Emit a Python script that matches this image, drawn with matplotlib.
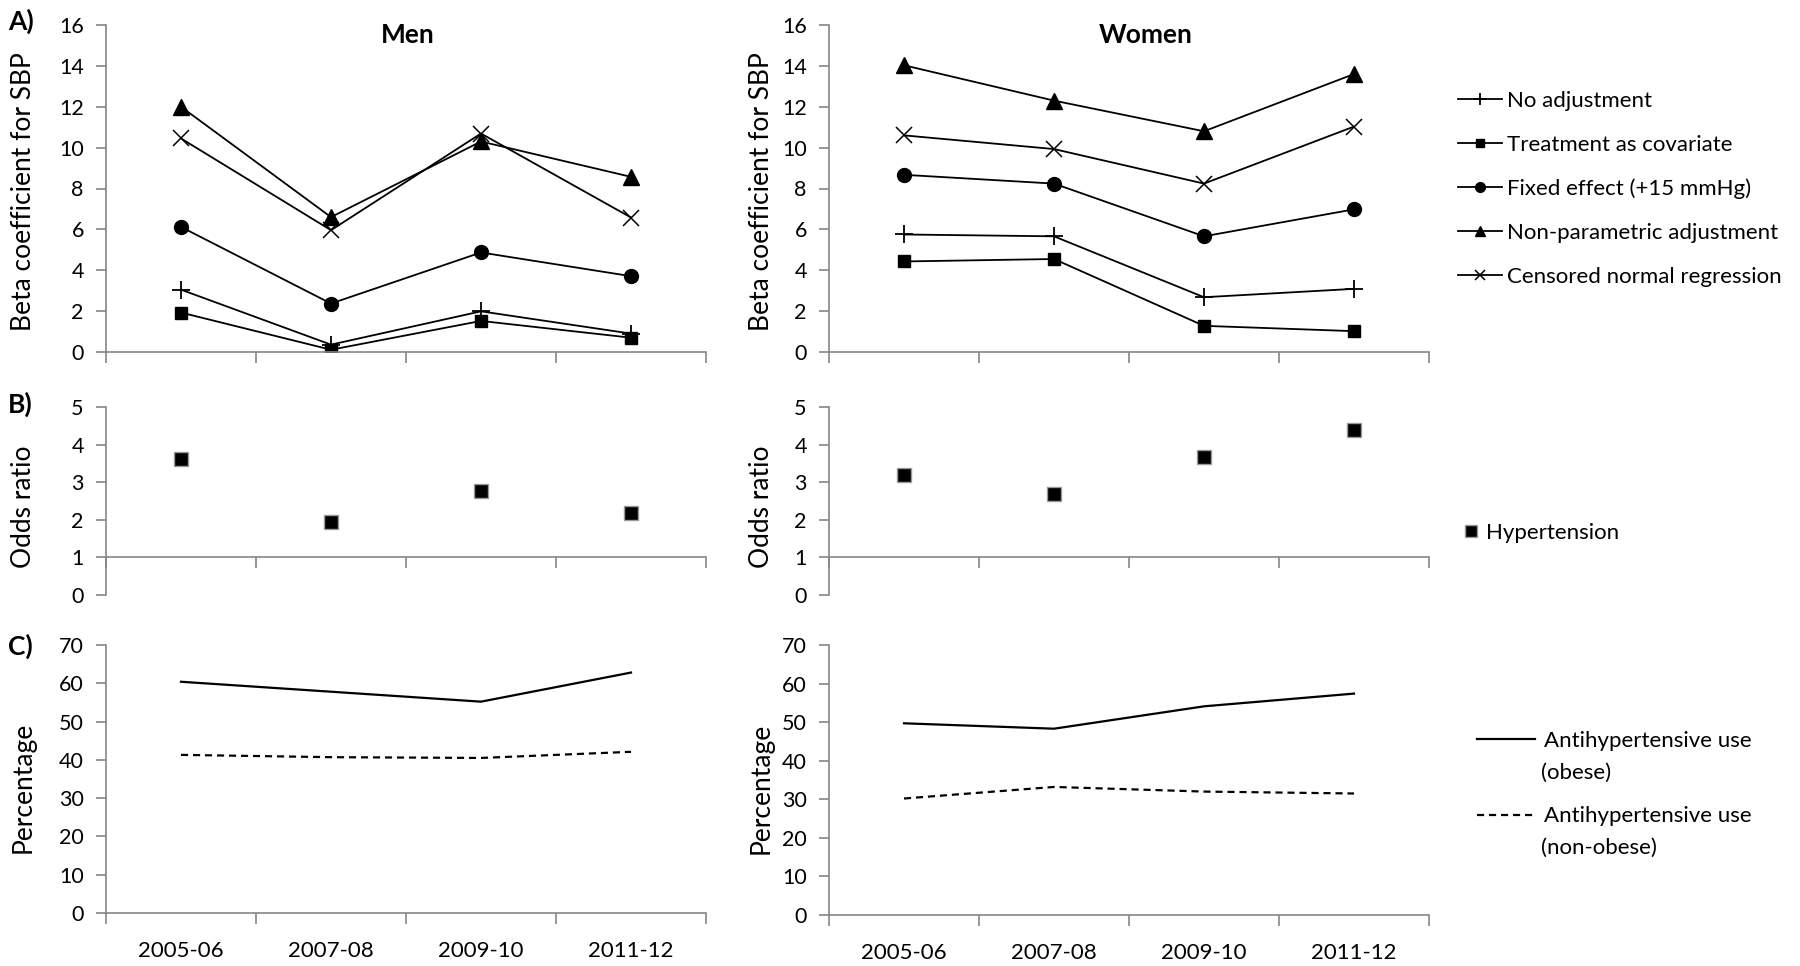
import matplotlib
matplotlib.use('Agg')
import matplotlib.pyplot as plt
from matplotlib.lines import Line2D

plt.rcParams['font.family'] = ['Lato', 'DejaVu Sans']

periods = ['2005-06', '2007-08', '2009-10', '2011-12']

methods = ['No adjustment', 'Treatment as covariate', 'Fixed effect (+15 mmHg)',
           'Non-parametric adjustment', 'Censored normal regression']

men_no_adj = [3.05, 0.36, 1.99, 0.90]
men_treat_cov = [1.93, 0.11, 1.52, 0.70]
men_fixed = [6.12, 2.37, 4.87, 3.71]
men_nonpar = [12.0, 6.6, 10.3, 8.57]
men_censored = [10.45, 5.96, 10.69, 6.58]

women_no_adj = [5.75, 5.66, 2.68, 3.09]
women_treat_cov = [4.43, 4.55, 1.28, 1.02]
women_fixed = [8.67, 8.24, 5.66, 6.98]
women_nonpar = [14.03, 12.3, 10.8, 13.6]
women_censored = [10.6, 9.93, 8.24, 11.03]

men_or = [3.62, 1.95, 2.77, 2.17]
women_or = [3.18, 2.68, 3.67, 4.39]

men_obese = [60.4, 57.8, 55.2, 62.8]
men_nonobese = [41.3, 40.7, 40.5, 42.1]
women_obese = [49.7, 48.3, 54.1, 57.4]
women_nonobese = [30.2, 33.2, 32.0, 31.5]

W, H = 1800, 966
GRAY = '#868686'
fig = plt.figure(figsize=(18, 9.66), dpi=100)


def rect(x0, x1, ytop, ybot):
    return [x0 / W, 1 - ybot / H, (x1 - x0) / W, (ybot - ytop) / H]


def style(ax, ymax, step, xlabels, xaxis_at=None):
    for s in ['top', 'right']:
        ax.spines[s].set_visible(False)
    for s in ['left', 'bottom']:
        ax.spines[s].set_color(GRAY)
        ax.spines[s].set_linewidth(1.2)
    if xaxis_at is not None:
        ax.spines['bottom'].set_position(('data', xaxis_at))
    ax.set_xlim(-0.5, 3.5)
    ax.set_ylim(0, ymax)
    ax.set_yticks([i * step for i in range(int(round(ymax / step)) + 1)])
    ax.set_xticks([-0.5, 0.5, 1.5, 2.5, 3.5])
    ax.set_xticklabels([])
    ax.set_xticks(range(4), minor=True)
    if xlabels:
        ax.set_xticklabels(periods, minor=True, fontsize=16)
    ax.tick_params(axis='both', which='major', direction='out', length=7,
                   color=GRAY, width=1.2, labelsize=15.5, pad=9)
    ax.tick_params(axis='x', which='minor', length=0, pad=20)
    ax.tick_params(axis='x', which='major', length=8)


x = list(range(4))
mk = dict(color='black', lw=1.3)
marker_specs = [
    dict(marker='+', markersize=13, markeredgewidth=1.3),
    dict(marker='s', markersize=8),
    dict(marker='o', markersize=10),
    dict(marker='^', markersize=11),
    dict(marker='x', markersize=11, markeredgewidth=1.1),
]

LX_M, LX_W = -0.117, -0.092

# Panel A
axA_m = fig.add_axes(rect(106, 706, 25, 352))
axA_w = fig.add_axes(rect(829, 1429, 25, 352))
for ax, series in [(axA_m, [men_no_adj, men_treat_cov, men_fixed, men_nonpar, men_censored]),
                   (axA_w, [women_no_adj, women_treat_cov, women_fixed, women_nonpar, women_censored])]:
    for vals, spec, lab in zip(series, marker_specs, methods):
        ax.plot(x, vals, label=lab, **mk, **spec)
    style(ax, 16, 2, False)
    ax.set_ylabel('Beta coefficient for SBP', fontsize=19)

axA_m.yaxis.set_label_coords(LX_M, 0.49)
axA_w.yaxis.set_label_coords(LX_W, 0.49)

# Panel B
axB_m = fig.add_axes(rect(106, 706, 407, 595))
axB_w = fig.add_axes(rect(829, 1429, 407, 595))
for ax, vals in [(axB_m, men_or), (axB_w, women_or)]:
    ax.plot(x, vals, linestyle='none', marker='s', markersize=10, color='black',
            markeredgecolor='#9a9a9a', markeredgewidth=1.0, label='Hypertension')
    style(ax, 5, 1, False, xaxis_at=1)
    ax.set_ylabel('Odds ratio', fontsize=19)
axB_m.yaxis.set_label_coords(LX_M, 0.47)
axB_w.yaxis.set_label_coords(LX_W, 0.47)

# Panel C
axC_m = fig.add_axes(rect(106, 706, 645, 913))
axC_w = fig.add_axes(rect(829, 1429, 645, 915))
for ax, ob, nob in [(axC_m, men_obese, men_nonobese), (axC_w, women_obese, women_nonobese)]:
    ax.plot(x, ob, color='black', lw=1.6, label='Antihypertensive use')
    ax.plot(x, nob, color='black', lw=1.6, linestyle=(0, (3.2, 2.2)),
            label='Antihypertensive use')
    style(ax, 70, 10, True)
    ax.set_ylabel('Percentage', fontsize=19)
axC_m.yaxis.set_label_coords(LX_M, 0.47)
axC_w.yaxis.set_label_coords(LX_W, 0.47)

# Titles and panel letters
fig.text(408 / W, 1 - 35 / H, 'Men', fontsize=19, fontweight='bold', ha='center', va='center')
fig.text(1146 / W, 1 - 35 / H, 'Women', fontsize=19, fontweight='bold', ha='center', va='center')
for lab, yy in [('A)', 21), ('B)', 404), ('C)', 646)]:
    fig.text(8 / W, 1 - yy / H, lab, fontsize=19, fontweight='bold', ha='left', va='center')

# Legends
hA, lA = axA_w.get_legend_handles_labels()
fig.legend(hA, lA, loc='upper left', bbox_to_anchor=(1458 / W, 1 - 91 / H),
           frameon=False, fontsize=16, borderpad=0, borderaxespad=0,
           handlelength=2.0, handletextpad=0.2, labelspacing=1.07, markerscale=0.7)

hB, lB = axB_w.get_legend_handles_labels()
fig.legend(hB, lB, loc='upper left', bbox_to_anchor=(1462 / W, 1 - 523 / H),
           frameon=False, fontsize=16, borderpad=0, borderaxespad=0,
           handlelength=0.8, handletextpad=0.3, markerscale=0.8)

hC, lC = axC_w.get_legend_handles_labels()
fig.legend(hC, lC, loc='upper left', bbox_to_anchor=(1477 / W, 1 - 731 / H),
           frameon=False, fontsize=16, borderpad=0, borderaxespad=0,
           handlelength=2.6, handletextpad=0.4, labelspacing=2.49)
fig.text(1541 / W, 1 - 773 / H, '(obese)', fontsize=16, ha='left', va='center')
fig.text(1541 / W, 1 - 848 / H, '(non-obese)', fontsize=16, ha='left', va='center')

fig.savefig('out.png', dpi=100)
